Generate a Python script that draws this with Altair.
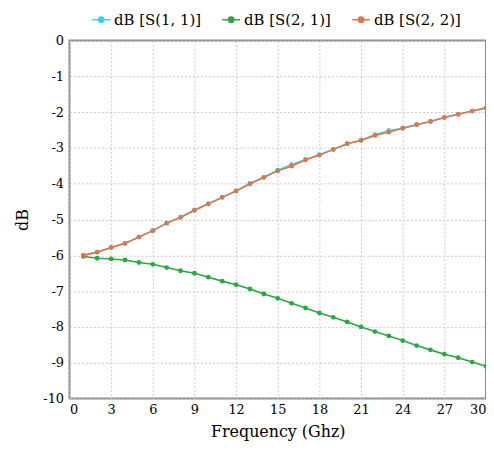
import altair as alt
import pandas as pd

freq = list(range(1, 31))
s22 = [-6.00, -5.91, -5.78, -5.67, -5.49, -5.31, -5.10, -4.94, -4.74, -4.56,
       -4.38, -4.20, -4.00, -3.82, -3.64, -3.51, -3.33, -3.20, -3.04, -2.88,
       -2.79, -2.65, -2.56, -2.45, -2.35, -2.26, -2.15, -2.06, -1.97, -1.88]
s11 = [-6.00, -5.91, -5.78, -5.66, -5.49, -5.31, -5.10, -4.93, -4.74, -4.56,
       -4.38, -4.20, -4.00, -3.82, -3.62, -3.46, -3.33, -3.19, -3.04, -2.88,
       -2.78, -2.63, -2.51, -2.45, -2.35, -2.26, -2.15, -2.06, -1.97, -1.88]
s21 = [-6.03, -6.08, -6.10, -6.13, -6.20, -6.25, -6.34, -6.43, -6.50, -6.61,
       -6.72, -6.82, -6.94, -7.08, -7.20, -7.34, -7.47, -7.61, -7.73, -7.86,
       -8.00, -8.13, -8.25, -8.38, -8.52, -8.64, -8.76, -8.86, -8.98, -9.10]
series = ["dB [S(1, 1)]", "dB [S(2, 1)]", "dB [S(2, 2)]"]
colors = ["#3fd3ea", "#2aa845", "#d9784a"]
x_ticks = list(range(0, 31, 3))
y_ticks = list(range(-10, 1))

rows = []
for i, (name, vals) in enumerate(zip(series, [s11, s21, s22])):
    for f, v in zip(freq, vals):
        rows.append({"Frequency": f, "dB": v, "series": name, "order": i})
df = pd.DataFrame(rows)

font = "DejaVu Serif"
sym = ("M-1,0L1,0"
       "M-0.3,0A0.3,0.3 0 1,0 0.3,0A0.3,0.3 0 1,0 -0.3,0"
       "M-0.18,0A0.18,0.18 0 1,0 0.18,0A0.18,0.18 0 1,0 -0.18,0"
       "M-0.07,0A0.07,0.07 0 1,0 0.07,0A0.07,0.07 0 1,0 -0.07,0")
color = alt.Color(
    "series:N",
    scale=alt.Scale(domain=series, range=colors),
    legend=alt.Legend(
        title=None, orient="none", direction="horizontal",
        legendX=22, legendY=-31,
        symbolType=sym,
        symbolSize=320, symbolStrokeWidth=1.5, labelFont=font, labelFontSize=15,
        labelColor="#000", columnPadding=18, symbolOffset=0, labelOffset=3,
    ),
)
x = alt.X("Frequency:Q", title="Frequency (Ghz)",
          scale=alt.Scale(domain=[0, 30], nice=False),
          axis=alt.Axis(values=x_ticks, labelExpr="'' + datum.value"))
y = alt.Y("dB:Q", title="dB",
          scale=alt.Scale(domain=[-10, 0], nice=False),
          axis=alt.Axis(values=y_ticks, labelExpr="'' + datum.value"))

base = alt.Chart(df).encode(x=x, y=y, color=color, detail="series:N", order="order:Q")
lines = base.mark_line(strokeWidth=1.6)
pts = base.mark_point(filled=False, size=6, strokeWidth=2.4, opacity=1)

chart = alt.layer(lines, pts).properties(
    width=420, height=361,
    autosize=alt.AutoSizeParams(type="none"),
    padding={"left": 62, "top": 31, "right": 0, "bottom": 45},
).configure_view(
    stroke="#8a8a8a", strokeWidth=2
).configure_axis(
    labelFont=font, titleFont=font, labelFontSize=13, titleFontSize=16,
    labelColor="#000", titleColor="#000", titleFontWeight="normal",
    grid=True, gridColor="#c8c8c8", gridDash=[2, 2], gridWidth=1,
    domain=False, ticks=False, labelPadding=6,
).configure_axisY(
    titlePadding=12, titleAngle=270
).configure_axisX(
    titlePadding=7, labelPadding=5
)

chart.save("out.html", embed_options={"renderer": "svg", "actions": False})
